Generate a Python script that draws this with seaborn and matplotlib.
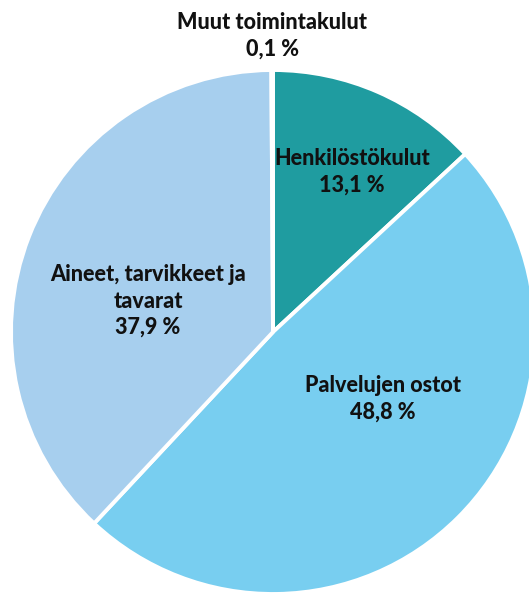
import matplotlib
matplotlib.use("Agg")
import matplotlib.pyplot as plt
import seaborn as sns

categories = ["Henkilöstökulut", "Palvelujen ostot", "Aineet, tarvikkeet ja\ntavarat", "Muut toimintakulut"]
values = [13.1, 48.8, 37.9, 0.1]
colors = ["#1F9CA0", "#78CEF0", "#A7CFEE", "#2E75B6"]

sns.set_theme(style="white")
plt.rcParams['font.family'] = ['Lato', 'DejaVu Sans']

W, H = 529, 594
fig = plt.figure(figsize=(W / 100, H / 100), dpi=100)
cx, cy, r = 273, 332, 262
ax = fig.add_axes([(cx - r) / W, (H - cy - r) / H, 2 * r / W, 2 * r / H])
wedges, _ = ax.pie(values, colors=colors, startangle=90, counterclock=False,
                   radius=1, wedgeprops=dict(edgecolor="white", linewidth=2.8))
ax.set_xlim(-1, 1)
ax.set_ylim(-1, 1)
ax.set_aspect("equal")
ax.axis("off")
for w in wedges:
    w.set_clip_on(False)

def fmt(v):
    return f"{v:.1f}".replace(".", ",") + " %"

# label positions in pixel coordinates (center of text block)
label_pos = [(352, 172), (383, 399), (148, 301), (272, 36)]
for (px, py), cat, v in zip(label_pos, categories, values):
    fig.text(px / W, 1 - py / H, f"{cat}\n{fmt(v)}", ha="center", va="center",
             fontsize=15.5, fontweight="black", color="#111111", linespacing=1.3)

fig.savefig("out.png", dpi=100)
